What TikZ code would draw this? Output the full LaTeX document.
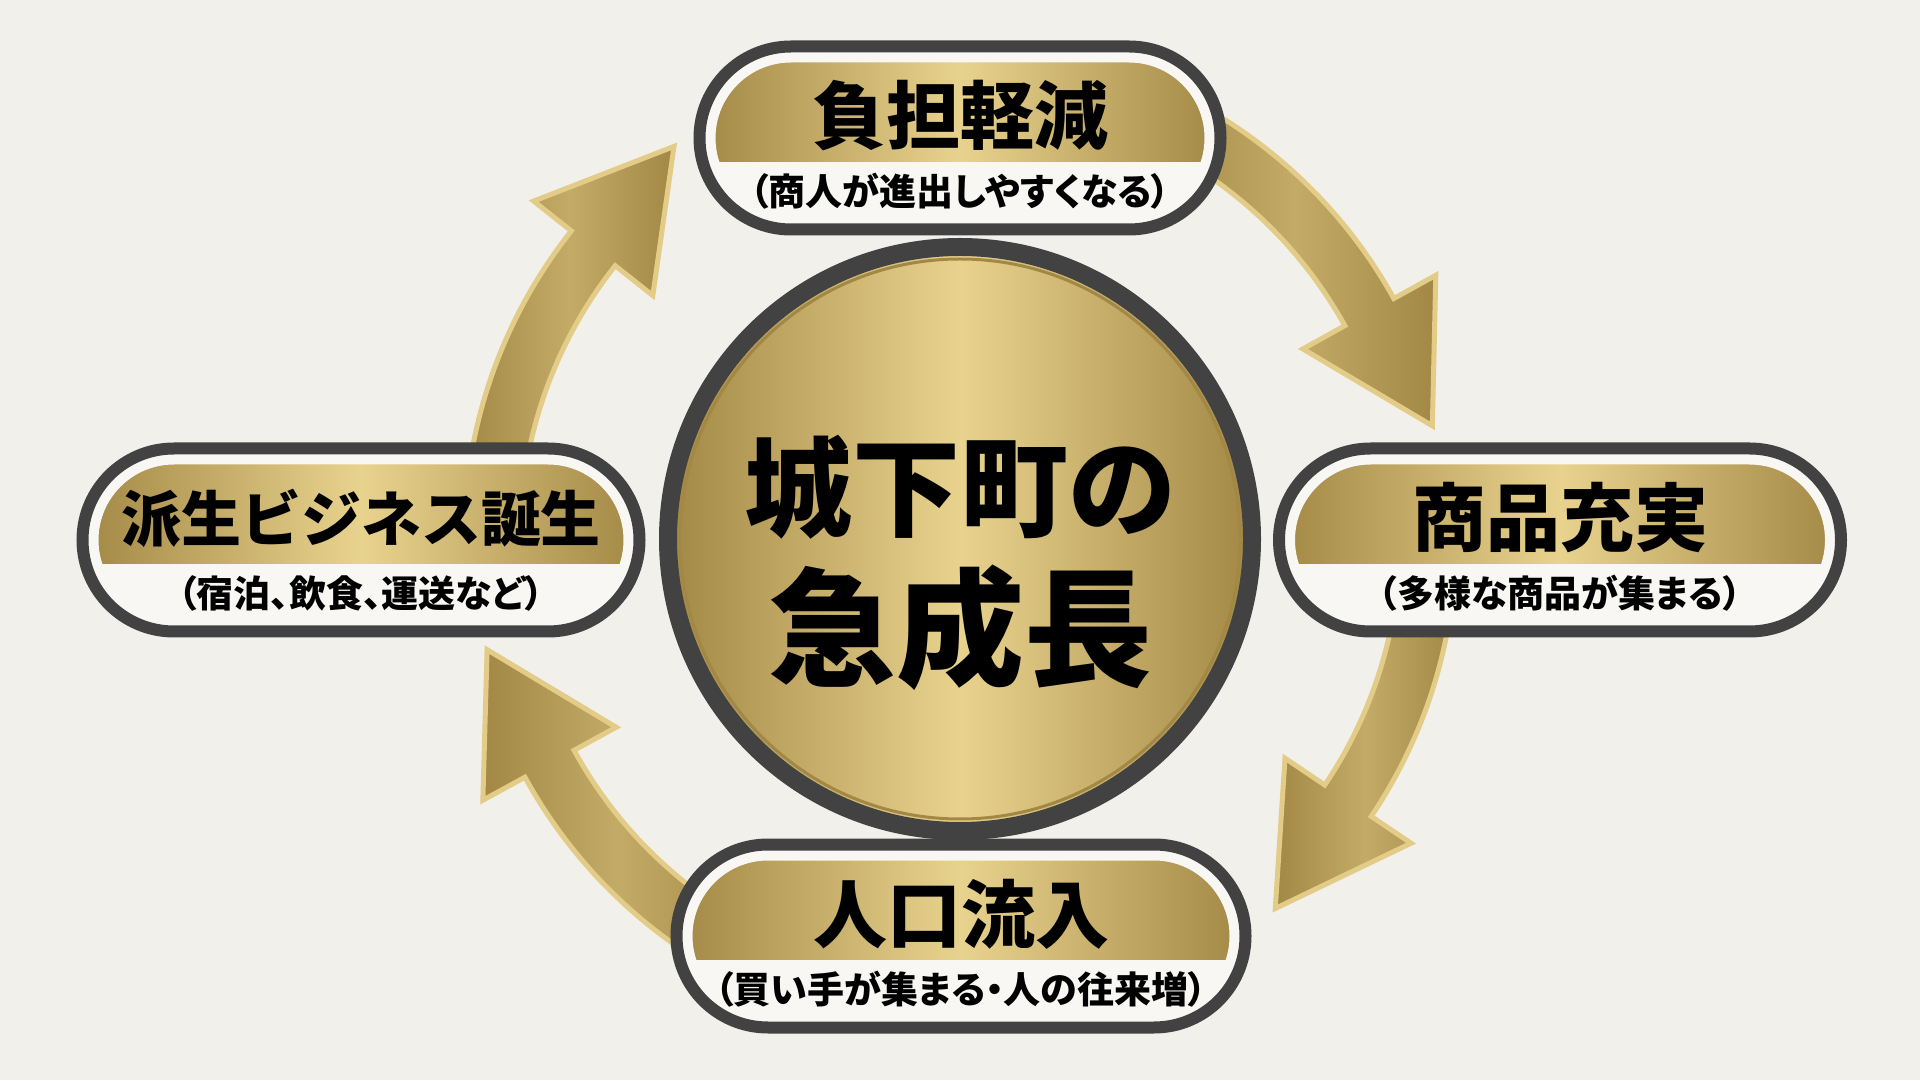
\documentclass[tikz,border=0pt]{standalone}
\usepackage{fontspec}
\setmainfont{Noto Sans CJK JP}
\usetikzlibrary{shapes.misc,calc}

\definecolor{paper}{HTML}{F1F0EB}
\definecolor{ringgray}{HTML}{424242}
\definecolor{golddark}{HTML}{A38845}
\definecolor{goldlight}{HTML}{E8D38E}
\definecolor{goldedge}{HTML}{E2CC88}
\definecolor{goldbody}{HTML}{B39A57}
\definecolor{pillwhite}{HTML}{F8F7F3}

\tikzset{
  pill/.style={rounded rectangle, draw=ringgray, line width=12pt, fill=pillwhite,
    minimum height=183pt, inner sep=0pt,
    path picture={
      \fill[left color=golddark, right color=golddark, middle color=goldlight]
        (path picture bounding box.north west) rectangle ([yshift=68pt]path picture bounding box.south east);
      \draw[pillwhite, line width=32pt, rounded corners=91.5pt]
        (path picture bounding box.south west) rectangle (path picture bounding box.north east);
    }},
  core/.style={circle, draw=ringgray, line width=18pt, minimum size=584pt, inner sep=0pt,
    left color=golddark, right color=golddark, middle color=goldlight,
    path picture={\draw[golddark, line width=3pt] (path picture bounding box.center) circle (280pt);}},
  title/.style={font=\bfseries\fontsize{74}{80}\selectfont, text=black, inner sep=0pt},
  subtitle/.style={font=\bfseries\fontsize{37}{42}\selectfont\addfontfeatures{RawFeature=+palt}, text=black, inner sep=0pt},
  arrowgold/.style={draw=goldedge, line width=5pt, line join=miter,
    left color=golddark, right color=golddark, middle color=goldbody!70!goldlight}
}

% #1 start angle (under a pill), #2 angle of the head base
\newcommand{\goldarrow}[2]{%
  \draw[arrowgold] ($(hub)+(#1:496)$) arc[start angle=#1, end angle=#2, radius=496pt]
    -- ($(hub)+(#2:544)$) -- ($(hub)+(#2:468)+(#2-90:130)$)
    -- ($(hub)+(#2:392)$) -- ($(hub)+(#2:440)$)
    arc[start angle=#2, end angle=#1, radius=440pt] -- cycle;}

\begin{document}
\begin{tikzpicture}[x=1pt,y=1pt]
  \useasboundingbox (0,0) rectangle (1920,1080);
  \fill[paper] (0,0) rectangle (1920,1080);

  \coordinate (hub) at (960,541);

  % cycle arrows
  \goldarrow{64}{29}
  \goldarrow{-3}{-34}
  \goldarrow{-118}{-151.3}
  \goldarrow{178}{141.6}

  \node (core) at (hub) [core] {};
  \node [font=\bfseries\fontsize{108}{110}\selectfont, inner sep=0pt] at ([yshift=52pt]core.center) {城下町の};
  \node [font=\bfseries\fontsize{128}{130}\selectfont, inner sep=0pt] at ([yshift=-89pt]core.center) {急成長};

  \node (burden) at (960,942) [pill, minimum width=521pt] {};
  \node [title] at ([yshift=22pt]burden.center) {負担軽減};
  \node [subtitle] at ([yshift=-53pt]burden.center) {（商人が進出しやすくなる）};

  \node (goods) at (1560,540) [pill, minimum width=562pt] {};
  \node [title] at ([yshift=22pt]goods.center) {商品充実};
  \node [subtitle] at ([yshift=-53pt]goods.center) {（多様な商品が集まる）};

  \node (inflow) at (961,144) [pill, minimum width=569pt] {};
  \node [title] at ([yshift=22pt]inflow.center) {人口流入};
  \node [subtitle] at ([yshift=-53pt]inflow.center) {（買い手が集まる・人の往来増）};

  \node (spinoff) at (361,540) [pill, minimum width=557pt] {};
  \node [title, font=\bfseries\fontsize{60}{66}\selectfont] at ([yshift=22pt]spinoff.center) {派生ビジネス誕生};
  \node [subtitle] at ([yshift=-53pt]spinoff.center) {（宿泊、飲食、運送など）};
\end{tikzpicture}
\end{document}
